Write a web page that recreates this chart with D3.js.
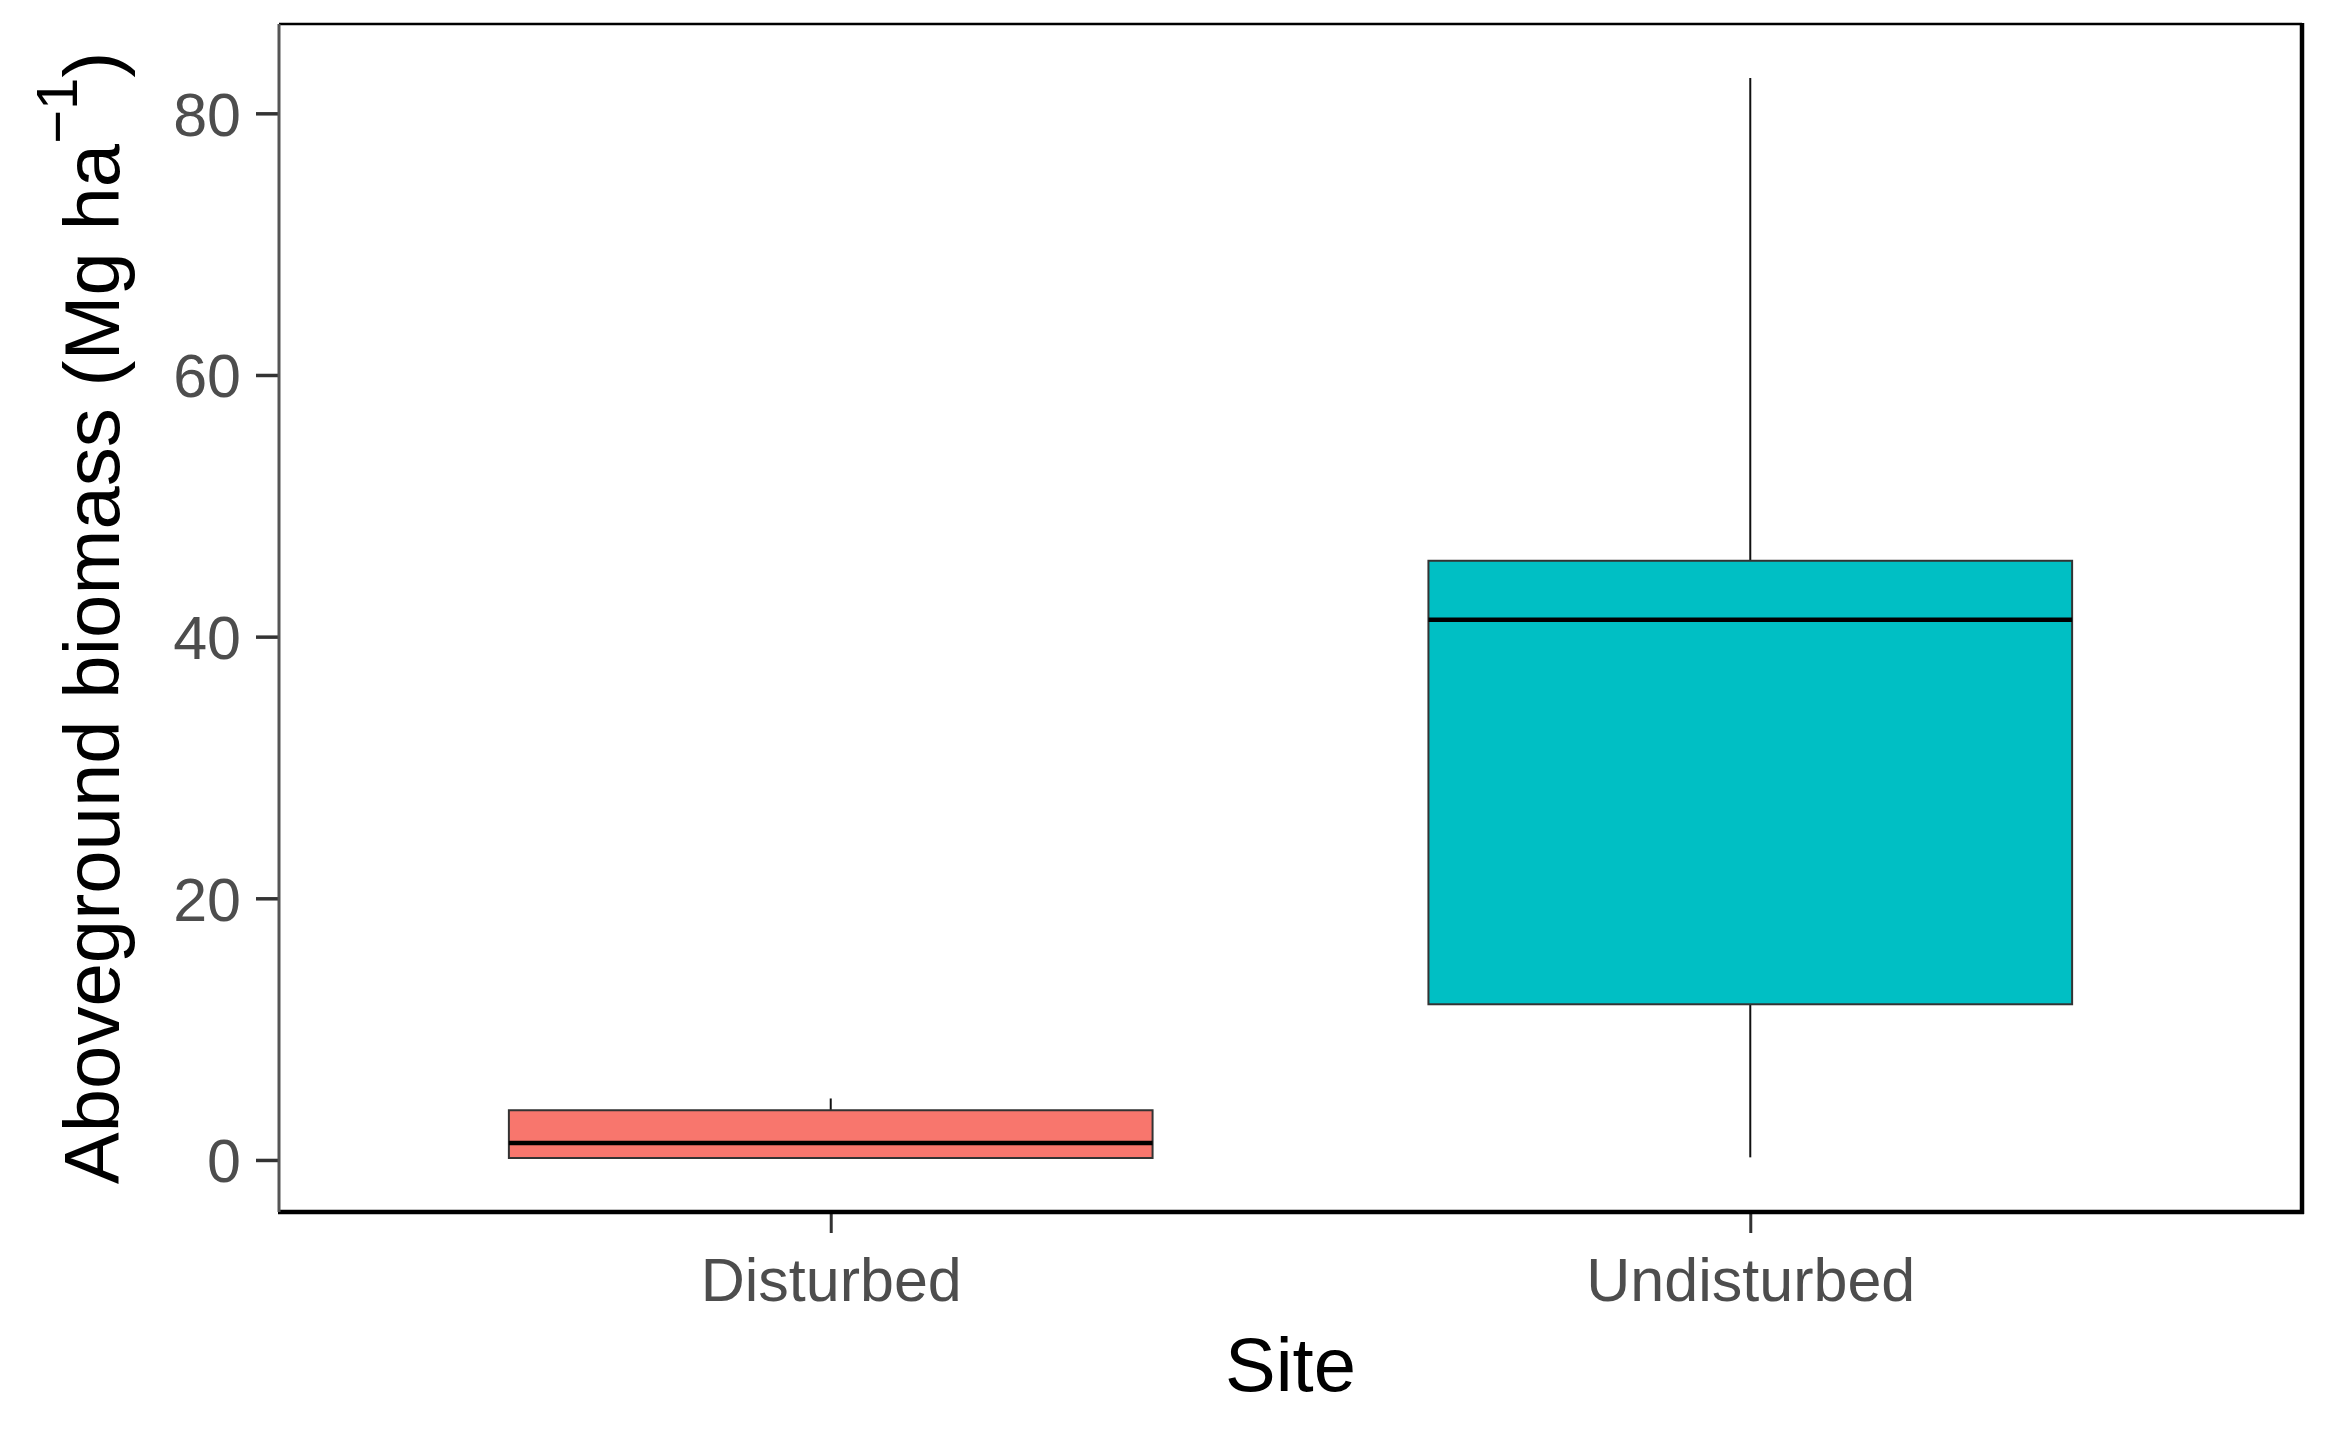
<!DOCTYPE html>
<html>
<head>
<meta charset="utf-8">
<script src="https://cdn.jsdelivr.net/npm/d3@7"></script>
<style>
  html, body { margin: 0; padding: 0; background: #ffffff; }
  svg { display: block; }
</style>
</head>
<body>
<svg id="chart" width="2337" height="1430"></svg>
<script>
// ---- data ----
const categories = ["Disturbed", "Undisturbed"];
const lowerWhisker = [0.15, 0.2];
const q1Values = [0.15, 11.9];
const medianValues = [1.3, 41.3];
const q3Values = [3.8, 45.8];
const upperWhisker = [4.7, 82.7];
const fillColors = ["#F8766D", "#00BFC4"];
const yTickValues = [0, 20, 40, 60, 80];
const xTitle = "Site";

// ---- layout ----
const W = 2337, H = 1430;
const panel = { left: 279, right: 2302, top: 24, bottom: 1212 };

const svg = d3.select("#chart");
const font = "'Liberation Sans', Arial, Helvetica, sans-serif";

const dataMin = d3.min(lowerWhisker), dataMax = d3.max(upperWhisker);
const pad = (dataMax - dataMin) * 0.05;
const y = d3.scaleLinear()
  .domain([dataMin - pad, dataMax + pad])
  .range([panel.bottom, panel.top]);

const x = d3.scalePoint()
  .domain(categories)
  .range([panel.left, panel.right])
  .padding(0.6);
const boxW = x.step() * 0.7;

const rows = categories.map((c, i) => ({
  cat: c, lo: lowerWhisker[i], q1: q1Values[i], med: medianValues[i],
  q3: q3Values[i], hi: upperWhisker[i], fill: fillColors[i]
}));

// ---- boxes ----
const g = svg.append("g");
const box = g.selectAll("g.box").data(rows).join("g").attr("class", "box");

// whiskers
box.append("line")
  .attr("x1", d => x(d.cat)).attr("x2", d => x(d.cat))
  .attr("y1", d => y(d.q3)).attr("y2", d => y(d.hi))
  .attr("stroke", "#111").attr("stroke-width", 2);
box.append("line")
  .attr("x1", d => x(d.cat)).attr("x2", d => x(d.cat))
  .attr("y1", d => y(d.lo)).attr("y2", d => y(d.q1))
  .attr("stroke", "#111").attr("stroke-width", 2);

// boxes
box.append("rect")
  .attr("x", d => x(d.cat) - boxW / 2)
  .attr("width", boxW)
  .attr("y", d => y(d.q3))
  .attr("height", d => Math.max(0, y(d.q1) - y(d.q3)))
  .attr("fill", d => d.fill)
  .attr("stroke", "#333")
  .attr("stroke-width", 2);

// medians
box.append("line")
  .attr("x1", d => x(d.cat) - boxW / 2).attr("x2", d => x(d.cat) + boxW / 2)
  .attr("y1", d => y(d.med)).attr("y2", d => y(d.med))
  .attr("stroke", "#000").attr("stroke-width", 4.5);

// ---- axes ----
const yAxis = svg.append("g")
  .attr("transform", `translate(${panel.left},0)`)
  .call(d3.axisLeft(y).tickValues(yTickValues).tickSize(23).tickPadding(15));
yAxis.select(".domain").remove();
yAxis.selectAll(".tick line").attr("stroke", "#333").attr("stroke-width", 3.5);
yAxis.selectAll(".tick text")
  .attr("fill", "#4D4D4D").attr("font-family", font).attr("font-size", 61)
  .attr("dy", "0.36em");

const xAxis = svg.append("g")
  .attr("transform", `translate(0,${panel.bottom})`)
  .call(d3.axisBottom(x).tickSize(21).tickPadding(25));
xAxis.select(".domain").remove();
xAxis.selectAll(".tick line").attr("stroke", "#333").attr("stroke-width", 3);
xAxis.selectAll(".tick text")
  .attr("fill", "#4D4D4D").attr("font-family", font).attr("font-size", 61);

// ---- panel border ----
const border = svg.append("g");
border.append("line").attr("x1", panel.left).attr("x2", panel.right)
  .attr("y1", panel.top).attr("y2", panel.top)
  .attr("stroke", "#000").attr("stroke-width", 2.5);
border.append("line").attr("x1", panel.right).attr("x2", panel.right)
  .attr("y1", panel.top - 1).attr("y2", panel.bottom + 2)
  .attr("stroke", "#000").attr("stroke-width", 4.5);
border.append("line").attr("x1", panel.left - 1).attr("x2", panel.right + 2)
  .attr("y1", panel.bottom).attr("y2", panel.bottom)
  .attr("stroke", "#000").attr("stroke-width", 4.5);
border.append("line").attr("x1", panel.left).attr("x2", panel.left)
  .attr("y1", panel.top).attr("y2", panel.bottom)
  .attr("stroke", "#555").attr("stroke-width", 3);

// ---- titles ----
svg.append("text")
  .attr("x", (panel.left + panel.right) / 2)
  .attr("y", 1391)
  .attr("text-anchor", "middle")
  .attr("font-family", font).attr("font-size", 76).attr("fill", "#000")
  .text(xTitle);

const yt = svg.append("text")
  .attr("transform", `translate(119,${(panel.top + panel.bottom) / 2}) rotate(-90)`)
  .attr("text-anchor", "middle")
  .attr("font-family", font).attr("font-size", 78).attr("fill", "#000");
yt.append("tspan").text("Aboveground biomass (Mg ha");
yt.append("tspan").attr("font-size", 58).attr("dy", -42).text("\u22121");
yt.append("tspan").attr("dy", 42).text(")");
</script>
</body>
</html>
